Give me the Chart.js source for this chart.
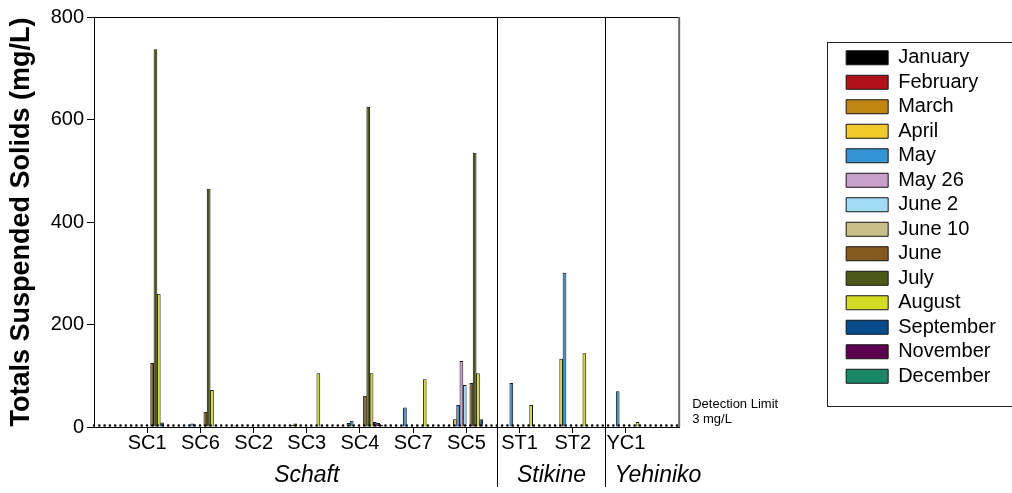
<!DOCTYPE html>
<html>
<head>
<meta charset="utf-8">
<script src="https://cdn.jsdelivr.net/npm/chart.js@4/dist/chart.umd.min.js"></script>
<style>
  html, body { margin: 0; padding: 0; background: #ffffff; }
  #wrap { width: 1012px; height: 493px; }
</style>
</head>
<body>
<div id="wrap"><canvas id="c" width="1012" height="493"></canvas></div>
<script>
// ---- data ----
const stations = ['SC1', 'SC6', 'SC2', 'SC3', 'SC4', 'SC7', 'SC5', 'ST1', 'ST2', 'YC1'];
const months = ['January', 'February', 'March', 'April', 'May', 'May 26', 'June 2', 'June 10', 'June', 'July', 'August', 'September', 'November', 'December'];
const monthColors = ['#000000', '#b0101a', '#c0860f', '#f2ca2a', '#3494d4', '#c9a0c9', '#a2dcf4', '#c8c088', '#845a1e', '#4c5818', '#d4dc24', '#064c8c', '#5e0050', '#188868'];

//                 SC1   SC6   SC2   SC3   SC4   SC7   SC5   ST1   ST2   YC1
const january   = [null, null, null, null, null, null, null, null, null, null];
const february  = [null, null, 3,    null, null, null, null, null, null, null];
const march     = [null, null, null, 4,    null, null, null, null, null, null];
const april     = [null, null, null, 7,    8,    null, 15,   null, 133,  null];
const may       = [null, 7,    null, null, 12,   38,   43,   86,   301,  70  ];
const may26     = [null, null, null, null, null, null, 129,  null, null, null];
const june2     = [null, null, null, null, null, null, 82,   null, null, null];
const june10    = [null, null, null, null, null, null, null, null, null, null];
const june      = [125,  30,   null, null, 61,   null, 86,   null, null, null];
const july      = [737,  465,  null, null, 625,  null, 535,  null, null, null];
const august    = [260,  72,   null, 105,  105,  93,   105,  43,   144,  10  ];
const september = [9,    null, null, null, 10,   null, 15,   null, null, null];
const november  = [null, null, null, null, 8,    null, null, null, null, null];
const december  = [null, null, null, null, 4,    null, null, null, null, null];
const monthSeries = [january, february, march, april, may, may26, june2, june10, june, july, august, september, november, december];

const yTicks = [0, 200, 400, 600, 800];
const detectionLimit = 3;
const groupNames = ['Schaft', 'Stikine', 'Yehiniko'];
const groupCenters = [4, 8.6, 10.6];      // category-index positions
const separatorsAt = [7.58, 9.6];          // category-index positions

// ---- build ----
const labels = [''].concat(stations, ['']);
const pad = arr => [null].concat(arr, [null]);

const datasets = months.map((m, i) => ({
  type: 'bar',
  label: m,
  data: pad(monthSeries[i]),
  backgroundColor: monthColors[i],
  borderColor: '#141414',
  borderWidth: 1,
  categoryPercentage: 0.87,
  barPercentage: 1.12,
  order: 1
}));
datasets.push({
  type: 'line',
  label: 'Detection Limit',
  data: labels.map(() => detectionLimit),
  borderColor: '#000000',
  borderWidth: 2.6,
  borderDash: [0, 5.3],
  borderCapStyle: 'round',
  pointRadius: 0,
  fill: false,
  order: -1
});

const FONT = '"Liberation Sans", Arial, Helvetica, sans-serif';

const decor = {
  id: 'decor',
  afterLayout(chart) {
    const lg = chart.legend;
    const shift = 5;
    lg.top -= shift; lg.bottom -= shift;
    (lg.legendHitBoxes || []).forEach(h => { h.top -= shift; });
  },
  afterDraw(chart) {
    const ctx = chart.ctx;
    const ca = chart.chartArea;
    const xs = chart.scales.x, ys = chart.scales.y;
    ctx.save();
    // plot frame top and right
    ctx.strokeStyle = '#000';
    ctx.lineWidth = 1;
    ctx.beginPath();
    ctx.moveTo(ca.left, ca.top + 0.5);
    ctx.lineTo(ca.right, ca.top + 0.5);
    ctx.stroke();
    ctx.strokeStyle = '#6a6a6a';
    ctx.lineWidth = 2;
    ctx.beginPath();
    ctx.moveTo(ca.right, ca.top);
    ctx.lineTo(ca.right, ca.bottom);
    ctx.stroke();
    // separators
    ctx.strokeStyle = '#000';
    ctx.lineWidth = 1;
    separatorsAt.forEach(v => {
      const px = Math.round(xs.getPixelForValue(v)) + 0.5;
      ctx.beginPath();
      ctx.moveTo(px, ca.top);
      ctx.lineTo(px, chart.height - 6);
      ctx.stroke();
    });
    // group labels
    ctx.fillStyle = '#000';
    ctx.font = 'italic 23px ' + FONT;
    ctx.textAlign = 'center';
    ctx.textBaseline = 'middle';
    groupNames.forEach((g, i) => {
      ctx.fillText(g, xs.getPixelForValue(groupCenters[i]), 476);
    });
    // detection limit text
    const yd = ys.getPixelForValue(detectionLimit);
    ctx.font = '13px ' + FONT;
    ctx.textAlign = 'left';
    ctx.fillText('Detection Limit', ca.right + 13, yd - 21);
    ctx.fillText('3 mg/L', ca.right + 13, yd - 6);
    // legend frame
    const lg = chart.legend;
    const hb = lg.legendHitBoxes;
    if (hb && hb.length) {
      const first = hb[0], last = hb[hb.length - 1];
      const l = first.left - 19;
      const t = first.top - 6;
      const b = last.top + last.height + 19;
      ctx.strokeStyle = '#222';
      ctx.lineWidth = 1;
      ctx.strokeRect(Math.round(l) + 0.5, Math.round(t) + 0.5, chart.width + 10 - l, Math.round(b - t));
    }
    ctx.restore();
  }
};

new Chart(document.getElementById('c'), {
  data: { labels: labels, datasets: datasets },
  options: {
    responsive: false,
    animation: false,
    devicePixelRatio: 1,
    layout: { padding: { top: 17, right: 6, bottom: 0, left: 0 } },
    plugins: {
      legend: {
        display: true,
        position: 'right',
        fullSize: false,
        align: 'center',
        labels: {
          boxWidth: 42,
          boxHeight: 14,
          padding: 4.5,
          color: '#000',
          font: { family: FONT, size: 20 },
          filter: item => item.text !== 'Detection Limit'
        }
      },
      tooltip: { enabled: false }
    },
    scales: {
      x: {
        type: 'category',
        offset: false,
        grid: {
          display: true,
          offset: false,
          drawOnChartArea: false,
          drawTicks: true,
          tickLength: 6,
          color: c => (c.index === 0 || c.index === labels.length - 1) ? 'rgba(0,0,0,0)' : '#000'
        },
        border: { display: true, color: '#000', width: 1 },
        ticks: {
          color: '#000',
          font: { family: FONT, size: 20 },
          padding: -2,
          maxRotation: 0,
          autoSkip: false
        },
        afterFit: s => { s.height = 66; }
      },
      y: {
        type: 'linear',
        position: 'left',
        min: 0,
        max: 800,
        afterBuildTicks: s => { s.ticks = yTicks.map(v => ({ value: v })); },
        grid: { display: true, drawOnChartArea: false, drawTicks: true, tickLength: 7, color: '#000' },
        border: { display: true, color: '#000', width: 1 },
        ticks: { color: '#000', font: { family: FONT, size: 20 }, padding: 3 },
        title: {
          display: true,
          text: 'Totals Suspended Solids (mg/L)',
          color: '#000',
          font: { family: FONT, size: 27, weight: 'bold' },
          padding: { top: 5, bottom: 0 }
        },
        afterFit: s => { s.width = 94; }
      },
      gap: {
        type: 'linear',
        position: 'right',
        display: true,
        min: 0,
        max: 1,
        grid: { display: false, drawTicks: false },
        border: { display: false },
        ticks: { display: false },
        afterFit: s => { s.width = 162.5; }
      }
    }
  },
  plugins: [decor]
});
</script>
</body>
</html>
